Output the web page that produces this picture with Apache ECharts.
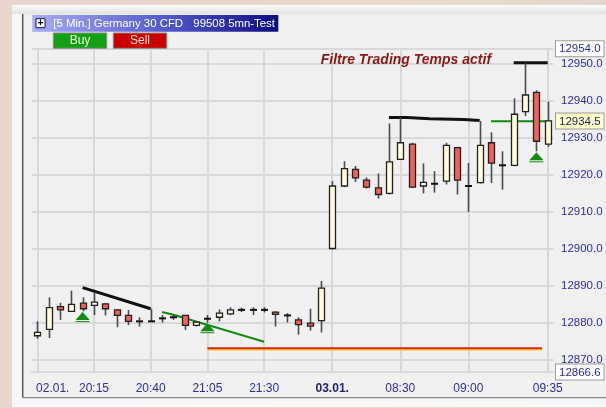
<!DOCTYPE html>
<html lang="fr">
<head>
<meta charset="UTF-8">
<title>Germany 30 CFD 5 Min.</title>
<script src="https://cdn.jsdelivr.net/npm/echarts@6.0.0/dist/echarts.min.js"></script>
<style>
  html, body { margin: 0; padding: 0; }
  body {
    width: 606px; height: 408px; overflow: hidden;
    background: linear-gradient(90deg, #ead5cf 0%, #e6d8cc 40%, #e9dccf 70%, #e4d6cc 100%);
  }
  #main { width: 606px; height: 408px; }
</style>
</head>
<body>
<div id="main"></div>
<script>
// bar index -> time label
var tickIdx = [0, 5, 10, 15, 20, 26, 32, 38, 45];
var tickText = ['02.01.', '20:15', '20:40', '21:05', '21:30', '03.01.', '08:30', '09:00', '09:35'];

// OHLC of the 46 five-minute bars
var opens  = [12876.4, 12878.1, 12884.3, 12883.0, 12885.2, 12884.6, 12885.0, 12883.4, 12881.9, 12880.3,
              12880.3, 12881.1, 12881.4, 12881.9, 12879.2, 12881.0, 12881.4, 12882.3, 12883.4, 12883.4,
              12883.4, 12882.8, 12881.9, 12880.7, 12879.8, 12880.5, 12900.0, 12916.9, 12921.4, 12918.5,
              12916.4, 12914.9, 12924.1, 12928.2, 12916.9, 12917.5, 12918.2, 12927.3, 12916.9, 12917.8,
              12928.6, 12922.5, 12922.5, 12937.0, 12942.2, 12928.2];
var closes = [12877.3, 12884.0, 12883.4, 12884.9, 12883.7, 12885.5, 12883.7, 12881.9, 12880.3, 12880.3,
              12880.3, 12881.1, 12881.4, 12879.2, 12880.1, 12881.0, 12882.5, 12883.4, 12883.4, 12883.4,
              12883.4, 12882.2, 12881.9, 12879.4, 12879.0, 12889.3, 12916.9, 12921.6, 12919.1, 12916.6,
              12914.6, 12923.4, 12928.6, 12916.6, 12917.9, 12917.5, 12927.9, 12918.5, 12916.9, 12927.9,
              12923.1, 12922.5, 12936.3, 12941.5, 12929.0, 12934.5];
var lows   = [12875.6, 12875.8, 12880.7, 12882.8, 12883.0, 12882.0, 12881.9, 12878.7, 12879.3, 12878.9,
              12880.2, 12880.0, 12880.7, 12878.0, 12878.9, 12879.9, 12880.3, 12882.0, 12882.8, 12882.0,
              12882.7, 12878.9, 12880.0, 12876.7, 12877.8, 12877.3, 12899.7, 12916.6, 12918.0, 12916.2,
              12913.5, 12914.6, 12924.0, 12916.4, 12914.9, 12915.1, 12917.3, 12914.6, 12909.9, 12917.6,
              12917.7, 12915.9, 12922.2, 12935.8, 12926.3, 12927.5];
var highs  = [12880.3, 12886.8, 12885.3, 12888.6, 12886.8, 12888.2, 12885.2, 12883.6, 12883.4, 12881.4,
              12883.7, 12882.0, 12882.3, 12882.0, 12880.4, 12882.0, 12883.5, 12884.1, 12884.0, 12884.1,
              12884.1, 12883.0, 12882.5, 12881.4, 12883.7, 12891.2, 12918.2, 12923.6, 12922.3, 12919.2,
              12920.3, 12933.8, 12935.4, 12928.6, 12923.0, 12920.9, 12928.6, 12927.5, 12923.1, 12934.5,
              12931.4, 12926.3, 12940.6, 12950.1, 12942.8, 12939.7];

// price scale
var yMin = 12866.6;
var yMax = 12954.0;
var priceTicks = [12870, 12880, 12890, 12900, 12910, 12920, 12930, 12940, 12950];
var lastPrice = 12934.5;

// buy signals (bar index, apex price)
var signalIdx = [4, 15, 44];
var signalPrice = [12882.8, 12879.8, 12926.0];

// drawn lines [bar index, price]
var blackLeft = [[4, 12889.4], [10, 12883.7]];
var greenDown = [[11, 12882.8], [12, 12882.1], [20, 12874.8]];
var redFloor = [[15, 12873.0], [44.5, 12873.0]];
var blackRight = [[31, 12935.4], [32.6, 12935.4], [32.6, 12935.1], [34.6, 12935.1],
                  [34.6, 12934.9], [37.6, 12934.9], [37.6, 12934.6], [39, 12934.6]];
var blackTop = [[42, 12950.2], [45, 12950.2]];
var greenFlat = [[40, 12934.4], [44.9, 12934.4]];

var FONT = '"Liberation Sans", Arial, sans-serif';
var LABEL_BLUE = '#2e2e9e';

var candleData = opens.map(function (o, i) {
    return [i, o, closes[i], lows[i], highs[i]];
});
var signalData = signalIdx.map(function (i, k) { return [i, signalPrice[k]]; });

function lineSeries(data, color, width, extra) {
    var s = {
        type: 'line', data: data, symbol: 'none', silent: true, z: 4,
        lineStyle: { color: color, width: width }
    };
    if (extra) Object.assign(s.lineStyle, extra);
    return s;
}

var myChart = echarts.init(document.getElementById('main'), null, { renderer: 'canvas' });

var option = {
    animation: false,
    backgroundColor: 'transparent',
    textStyle: { fontFamily: FONT },
    grid: { left: 31.6, right: 52.6, top: 48.8, bottom: 36, outerBoundsMode: 'none' },
    xAxis: {
        type: 'value', min: -0.5, max: 45.5,
        axisLine: { show: true, lineStyle: { color: '#d2d2d2', width: 1.5 } },
        axisTick: { show: false, customValues: tickIdx },
        splitLine: { show: true, lineStyle: { color: '#d8d8d8', width: 2 } },
        axisLabel: {
            customValues: tickIdx, margin: 11, fontSize: 12, color: LABEL_BLUE, fontFamily: FONT,
            formatter: function (v) {
                var k = tickIdx.indexOf(Math.round(v));
                var t = tickText[k];
                if (k === 0) return '{f|' + t + '}';
                return t === '03.01.' ? '{b|' + t + '}' : t;
            },
            rich: {
                b: { fontWeight: 'bold', color: '#22226e', fontSize: 12, fontFamily: FONT },
                // first label starts at its tick instead of being centred on it
                f: { color: LABEL_BLUE, fontSize: 12, fontFamily: FONT, padding: [0, 0, 0, 31] }
            }
        }
    },
    yAxis: {
        type: 'value', position: 'right', min: yMin, max: yMax, scale: true,
        axisLine: { show: false },
        axisTick: { show: false, customValues: priceTicks.concat([yMax]) },
        splitLine: { show: true, lineStyle: { color: '#d8d8d8', width: 2 } },
        axisLabel: {
            customValues: priceTicks.concat([yMax, lastPrice, yMin]),
            margin: 2.6, fontSize: 11.5, color: LABEL_BLUE, fontFamily: FONT,
            formatter: function (v) {
                var s = v.toFixed(1);
                if (v === lastPrice) return '{y|' + s + '}';
                if (v === yMax || v === yMin) return '{w|' + s + '}';
                return '{n|' + s + '}';
            },
            rich: {
                n: { padding: [2, 3, 1, 5], color: LABEL_BLUE, fontSize: 11.5, fontFamily: FONT },
                w: { padding: [2, 3, 1, 3], color: LABEL_BLUE, fontSize: 11.5, fontFamily: FONT,
                     backgroundColor: '#ffffff', borderColor: '#9a9a9a', borderWidth: 1 },
                y: { padding: [2, 3, 1, 3], color: '#1e1e60', fontSize: 11.5, fontFamily: FONT,
                     backgroundColor: '#ffffcc', borderColor: '#9a9a9a', borderWidth: 1 }
            }
        }
    },
    graphic: [
        // window frame
        { type: 'rect', z: -10, shape: { x: 12, y: 5, width: 594, height: 402 }, style: { fill: '#f7f7f7' } },
        { type: 'rect', z: -9, shape: { x: 12, y: 5, width: 594, height: 9 },
          style: { fill: { type: 'linear', x: 0, y: 0, x2: 0, y2: 1,
                   colorStops: [{ offset: 0, color: '#fbfbfb' }, { offset: 1, color: '#e2e2e2' }] } } },
        { type: 'rect', z: -9, shape: { x: 23, y: 14, width: 583, height: 383.5 }, style: { fill: '#f0f0f0' } },
        { type: 'line', z: -8, shape: { x1: 22.7, y1: 14, x2: 22.7, y2: 397.7 }, style: { stroke: '#5a5a5a', lineWidth: 1.5 } },
        { type: 'line', z: -8, shape: { x1: 22.7, y1: 397.7, x2: 606, y2: 397.7 }, style: { stroke: '#8a8a8a', lineWidth: 1.2 } },
        // title bar
        { type: 'rect', z: 10, shape: { x: 32.3, y: 15, width: 246, height: 16.7 },
          style: { fill: { type: 'linear', x: 0, y: 0, x2: 1, y2: 0,
                   colorStops: [{ offset: 0, color: '#a9acf2' }, { offset: 0.5, color: '#5a5fce' }, { offset: 1, color: '#0c0c80' }] } } },
        { type: 'rect', z: 11, shape: { x: 36, y: 18.7, width: 9, height: 9 }, style: { fill: '#ffffff', stroke: '#1a1a40', lineWidth: 1 } },
        { type: 'text', z: 12, x: 40.5, y: 23.4, style: { text: '+', font: 'bold 10px ' + FONT, fill: '#000', align: 'center', verticalAlign: 'middle' } },
        { type: 'text', z: 11, x: 53.3, y: 23.6,
          style: { text: '[5 Min.] Germany 30 CFD', font: '11.4px ' + FONT, fill: '#ffffff', verticalAlign: 'middle' } },
        { type: 'text', z: 11, x: 193.3, y: 23.6,
          style: { text: '99508 5mn-Test', font: '11.4px ' + FONT, fill: '#ffffff', verticalAlign: 'middle' } },
        // buttons
        { type: 'rect', z: 10, shape: { x: 53.3, y: 33, width: 53.4, height: 15.3 }, style: { fill: '#14a014', stroke: '#8a8a8a', lineWidth: 1 } },
        { type: 'text', z: 11, x: 80, y: 40.8, style: { text: 'Buy', font: '12px ' + FONT, fill: '#e8f4d8', align: 'center', verticalAlign: 'middle' } },
        { type: 'rect', z: 10, shape: { x: 113.3, y: 33, width: 53.4, height: 15.3 }, style: { fill: '#cc0000', stroke: '#8a8a8a', lineWidth: 1 } },
        { type: 'text', z: 11, x: 140, y: 40.8, style: { text: 'Sell', font: '12px ' + FONT, fill: '#f8e4e4', align: 'center', verticalAlign: 'middle' } },
        // annotation
        { type: 'text', z: 11, x: 320.7, y: 60,
          style: { text: 'Filtre Trading Temps actif', font: 'italic bold 14px ' + FONT, fill: '#8a1818', verticalAlign: 'middle' } }
    ],
    series: [
        lineSeries(redFloor, '#e2231a', 2, { shadowColor: '#f2d21a', shadowOffsetY: 1.2, shadowBlur: 0 }),
        lineSeries(blackLeft, '#111111', 3),
        lineSeries(greenDown, '#128a12', 2),
        lineSeries(blackRight, '#111111', 3),
        lineSeries(blackTop, '#111111', 3),
        lineSeries(greenFlat, '#128a12', 2),
        {
            type: 'custom', data: candleData, z: 5, silent: true,
            encode: { x: 0, y: [1, 2, 3, 4] },
            renderItem: function (params, api) {
                var i = api.value(0);
                var pO = api.coord([i, api.value(1)]);
                var pC = api.coord([i, api.value(2)]);
                var pL = api.coord([i, api.value(3)]);
                var pH = api.coord([i, api.value(4)]);
                var x = Math.round(pO[0]) + 0.5;
                var children = [{
                    type: 'line',
                    shape: { x1: x, y1: pH[1], x2: x, y2: pL[1] },
                    style: { stroke: '#4a4a4a', lineWidth: 1.6 }
                }];
                if (Math.abs(pO[1] - pC[1]) < 1.2) {
                    children.push({
                        type: 'line',
                        shape: { x1: x - 3.5, y1: pO[1], x2: x + 3.5, y2: pO[1] },
                        style: { stroke: '#111111', lineWidth: 2 }
                    });
                } else {
                    var up = api.value(2) > api.value(1);
                    children.push({
                        type: 'rect',
                        shape: { x: x - 3, y: Math.min(pO[1], pC[1]), width: 6, height: Math.abs(pO[1] - pC[1]) },
                        style: { fill: up ? '#fffbdc' : '#f0605c', stroke: '#202020', lineWidth: 1.3 }
                    });
                }
                return { type: 'group', children: children };
            }
        },
        {
            type: 'custom', data: signalData, z: 6, silent: true,
            encode: { x: 0, y: 1 },
            renderItem: function (params, api) {
                var p = api.coord([api.value(0), api.value(1)]);
                return {
                    type: 'group',
                    children: [
                        { type: 'polygon', shape: { points: [[p[0] - 7, p[1] + 8], [p[0] + 7, p[1] + 8], [p[0], p[1]]] },
                          style: { fill: '#128a12' } },
                        { type: 'line', shape: { x1: p[0] - 7, y1: p[1] + 9.5, x2: p[0] + 7, y2: p[1] + 9.5 },
                          style: { stroke: '#128a12', lineWidth: 1 } }
                    ]
                };
            }
        }
    ]
};

myChart.setOption(option);
</script>
</body>
</html>
